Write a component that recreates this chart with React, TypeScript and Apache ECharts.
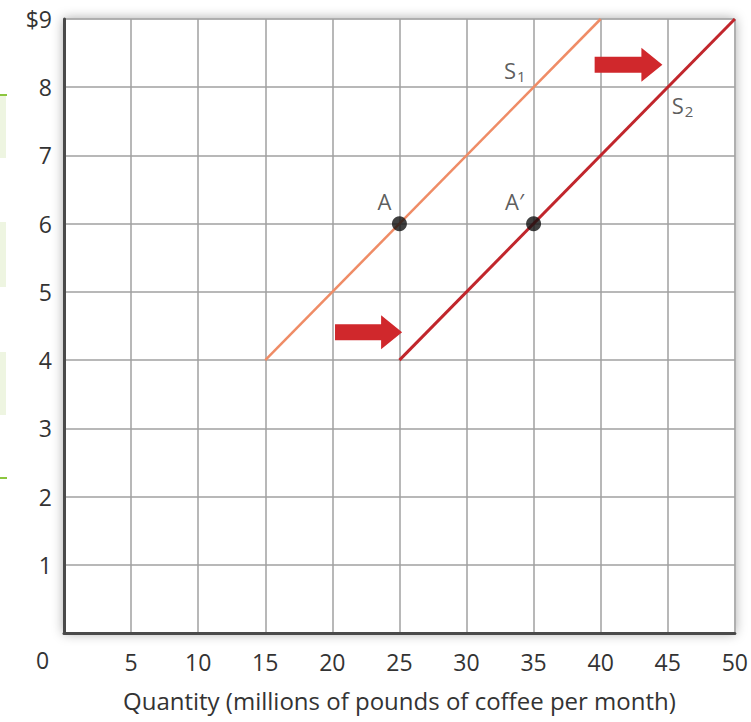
import React, { useEffect, useRef } from "react";
import * as echarts from "echarts";

const xTicks = [0, 5, 10, 15, 20, 25, 30, 35, 40, 45, 50];
const yTicks = [0, 1, 2, 3, 4, 5, 6, 7, 8, 9];
const supplyS1: [number, number][] = [[15, 4], [40, 9]];
const supplyS2: [number, number][] = [[25, 4], [50, 9]];
const pointA: [number, number] = [25, 6];
const pointA2: [number, number] = [35, 6];
// arrows: [xStart, xEnd, y]
const shiftArrows: [number, number, number][] = [[20.2, 25.2, 4.41], [39.55, 44.6, 8.33]];
// curve labels: [x, y, name, subscript]
const curveLabels: [number, number, string, string][] = [[33.6, 8.25, "S", "1"], [46.1, 7.74, "S", "2"]];
const xName = "Quantity (millions of pounds of coffee per month)";

const FONT = "'Open Sans', 'Noto Sans', sans-serif";
const TXT = "#333333";

export default function App() {
  const ref = useRef<HTMLDivElement>(null);
  useEffect(() => {
    if (!ref.current) return;
    const chart = echarts.init(ref.current, undefined, { renderer: "svg" });
    const option: any = {
      animation: false,
      backgroundColor: "#ffffff",
      textStyle: { fontFamily: FONT },
      grid: {
        left: 64, top: 19, right: 15, bottom: 89,
        show: true, backgroundColor: "#ffffff", borderColor: "#c8c8c8", borderWidth: 1,
        shadowBlur: 12, shadowColor: "rgba(0,0,0,0.35)", shadowOffsetX: 0, shadowOffsetY: 0,
      },
      xAxis: {
        type: "value", min: xTicks[0], max: xTicks[xTicks.length - 1], interval: 5,
        name: xName, nameLocation: "middle", nameGap: 55,
        nameTextStyle: { fontSize: 24, color: TXT, fontFamily: FONT },
        axisLine: { show: true, onZero: false, lineStyle: { color: "#4a4a4a", width: 3 } },
        axisTick: { show: false },
        axisLabel: { margin: 17, fontSize: 23, color: TXT, fontFamily: FONT, formatter: (v: number) => (v === 0 ? "" : String(v)) },
        splitLine: { show: true, lineStyle: { color: "#a0a0a0", width: 1.5 } },
      },
      yAxis: {
        type: "value", min: yTicks[0], max: yTicks[yTicks.length - 1], interval: 1,
        axisLine: { show: true, onZero: false, lineStyle: { color: "#4a4a4a", width: 3 } },
        axisTick: { show: false },
        axisLabel: { margin: 12, fontSize: 23, color: TXT, fontFamily: FONT, formatter: (v: number) => (v === 0 ? "" : v === 9 ? "$9" : String(v)) },
        splitLine: { show: true, lineStyle: { color: "#a0a0a0", width: 1.5 } },
      },
      graphic: [
        { type: "text", left: 36, top: 648, style: { text: "0", fontSize: 23, fill: TXT, fontFamily: FONT } },
        { type: "rect", shape: { x: 0, y: 95, width: 6, height: 63 }, style: { fill: "#eef5e1" } },
        { type: "rect", shape: { x: 0, y: 94, width: 7, height: 2 }, style: { fill: "#8cc63f" } },
        { type: "rect", shape: { x: 0, y: 222, width: 6, height: 65 }, style: { fill: "#eef5e1" } },
        { type: "rect", shape: { x: 0, y: 352, width: 6, height: 63 }, style: { fill: "#eef5e1" } },
        { type: "rect", shape: { x: 0, y: 477, width: 7, height: 2 }, style: { fill: "#8cc63f" } },
      ],
      series: [
        {
          type: "line", data: supplyS1, symbol: "none", silent: true,
          lineStyle: { color: "#ef8c66", width: 2.5 }, z: 3,
        },
        {
          type: "line", data: supplyS2, symbol: "none", silent: true,
          lineStyle: { color: "#c1262c", width: 3 }, z: 3,
        },
        {
          type: "custom", coordinateSystem: "cartesian2d", data: shiftArrows, z: 4,
          renderItem: (params: any, api: any) => {
            const p0 = api.coord([api.value(0), api.value(2)]);
            const p1 = api.coord([api.value(1), api.value(2)]);
            const bh = 8, hh = 17, hl = 21;
            const hx = p1[0] - hl;
            const cy = p0[1];
            return {
              type: "polygon",
              shape: { points: [[p0[0], cy - bh], [hx, cy - bh], [hx, cy - hh], [p1[0], cy], [hx, cy + hh], [hx, cy + bh], [p0[0], cy + bh]] },
              style: { fill: "#d0282c" },
            };
          },
        },
        {
          type: "scatter", data: [pointA, pointA2], symbolSize: 15, z: 5,
          itemStyle: { color: "#111111" },
          label: {
            show: true, position: "inside", fontSize: 22, color: TXT, fontFamily: FONT,
            formatter: (p: any) => (p.dataIndex === 0 ? "A" : "A\u2032"),
          },
          labelLayout: (p: any) => ({ dx: p.dataIndex === 0 ? -15 : -19, dy: -23 }),
        },
        {
          type: "scatter", data: curveLabels.map((c) => [c[0], c[1], c[2], c[3]]), symbolSize: 0, z: 5,
          label: {
            show: true, position: "inside", color: TXT, fontFamily: FONT,
            formatter: (p: any) => `{m|${p.value[2]}}{s|${p.value[3]}}`,
            rich: {
              m: { fontSize: 22, color: TXT, fontFamily: FONT },
              s: { fontSize: 15, color: TXT, fontFamily: FONT, padding: [12, 0, 0, 1] },
            },
          },
        },
      ],
    };
    chart.setOption(option);
    return () => chart.dispose();
  }, []);
  return <div ref={ref} style={{ width: 751, height: 722, position: "absolute", left: 0, top: 0 }} />;
}
